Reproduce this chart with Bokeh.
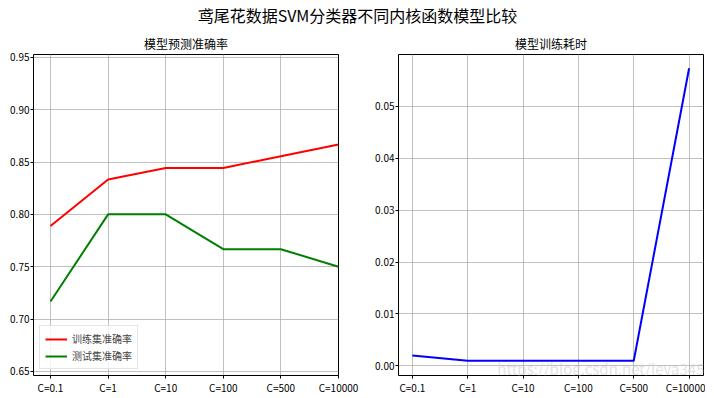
from bokeh.plotting import figure
from bokeh.models import FixedTicker, Div, Label, Legend, LegendItem, NumeralTickFormatter, Range1d
from bokeh.layouts import column, row
from bokeh.embed import file_html
from bokeh.resources import INLINE

categories = ["C=0.1", "C=1", "C=10", "C=100", "C=500", "C=10000"]
train_acc = [0.7889, 0.8333, 0.8444, 0.8444, 0.8556, 0.8667]
test_acc = [0.7167, 0.8000, 0.8000, 0.7667, 0.7667, 0.7500]
train_time = [0.0020, 0.0010, 0.0010, 0.0010, 0.0010, 0.0573]
acc_ticks = [0.65, 0.70, 0.75, 0.80, 0.85, 0.90, 0.95]
time_ticks = [0.00, 0.01, 0.02, 0.03, 0.04, 0.05]

FONT = "Noto Sans CJK SC"
xs = list(range(len(categories)))


def style(p, yticks, title):
    p.title.text = title
    p.title.align = "center"
    p.title.text_font = FONT
    p.title.text_font_size = "12px"
    p.title.text_font_style = "normal"
    p.title.text_color = "black"
    p.title.offset = 0
    p.title.standoff = 5
    p.outline_line_color = "black"
    p.outline_line_width = 1
    p.outline_line_alpha = 1
    for ax in (p.xaxis[0], p.yaxis[0]):
        ax.axis_line_color = None
        ax.major_tick_line_color = "black"
        ax.major_tick_in = 0
        ax.major_tick_out = 3
        ax.minor_tick_line_color = None
        ax.major_label_text_font = FONT
        ax.major_label_text_font_size = "10px"
        ax.major_label_text_color = "black"
        ax.major_label_standoff = 1
    p.xaxis[0].ticker = FixedTicker(ticks=xs)
    p.xaxis[0].major_label_overrides = {i: c for i, c in enumerate(categories)}
    p.yaxis[0].ticker = FixedTicker(ticks=yticks)
    p.yaxis[0].formatter = NumeralTickFormatter(format="0.00")
    for g in (p.xgrid[0], p.ygrid[0]):
        g.grid_line_color = "#b0b0b0"
        g.grid_line_width = 0.8
        g.grid_line_alpha = 1
    p.background_fill_color = "white"
    p.border_fill_color = "white"


p1 = figure(width=364, height=367, output_backend="svg", toolbar_location=None,
            x_range=Range1d(-0.295, 5.0), y_range=Range1d(0.646, 0.9528),
            min_border_left=33, min_border_right=26, min_border_top=23, min_border_bottom=18)
style(p1, acc_ticks, "模型预测准确率")
r1 = p1.line(xs, train_acc, line_color="red", line_width=2)
r2 = p1.line(xs, test_acc, line_color="green", line_width=2)
leg = Legend(items=[LegendItem(label="训练集准确率", renderers=[r1]),
                    LegendItem(label="测试集准确率", renderers=[r2])],
             location="bottom_left")
leg.label_text_font = FONT
leg.label_text_font_size = "10px"
leg.label_height = 12
leg.glyph_height = 12
leg.glyph_width = 22
leg.spacing = 2
leg.padding = 5
leg.margin = 6
leg.border_line_color = "#cccccc"
leg.border_line_width = 1
leg.background_fill_alpha = 0.8
p1.add_layout(leg)

p2 = figure(width=341, height=367, output_backend="svg", toolbar_location=None,
            x_range=Range1d(-0.25, 5.26), y_range=Range1d(-0.00184, 0.05994),
            min_border_left=34, min_border_right=2, min_border_top=23, min_border_bottom=18)
style(p2, time_ticks, "模型训练耗时")
p2.line(xs, train_time, line_color="blue", line_width=2)
wm = Label(x=306, y=-3, x_units="screen", y_units="screen", text="https://blog.csdn.net/leva345",
           text_font=FONT, text_font_size="15px", text_color="#d0d0d0", text_alpha=0.6,
           text_align="right")
p2.add_layout(wm)

title = Div(text="鸢尾花数据SVM分类器不同内核函数模型比较", width=705, height=20,
            styles={"font-family": FONT, "font-size": "16px", "text-align": "center",
                    "color": "black", "line-height": "20px", "width": "705px"})

layout = column(title, row(p1, p2, spacing=0), spacing=0)
open("out.html", "w").write(file_html(layout, INLINE))
